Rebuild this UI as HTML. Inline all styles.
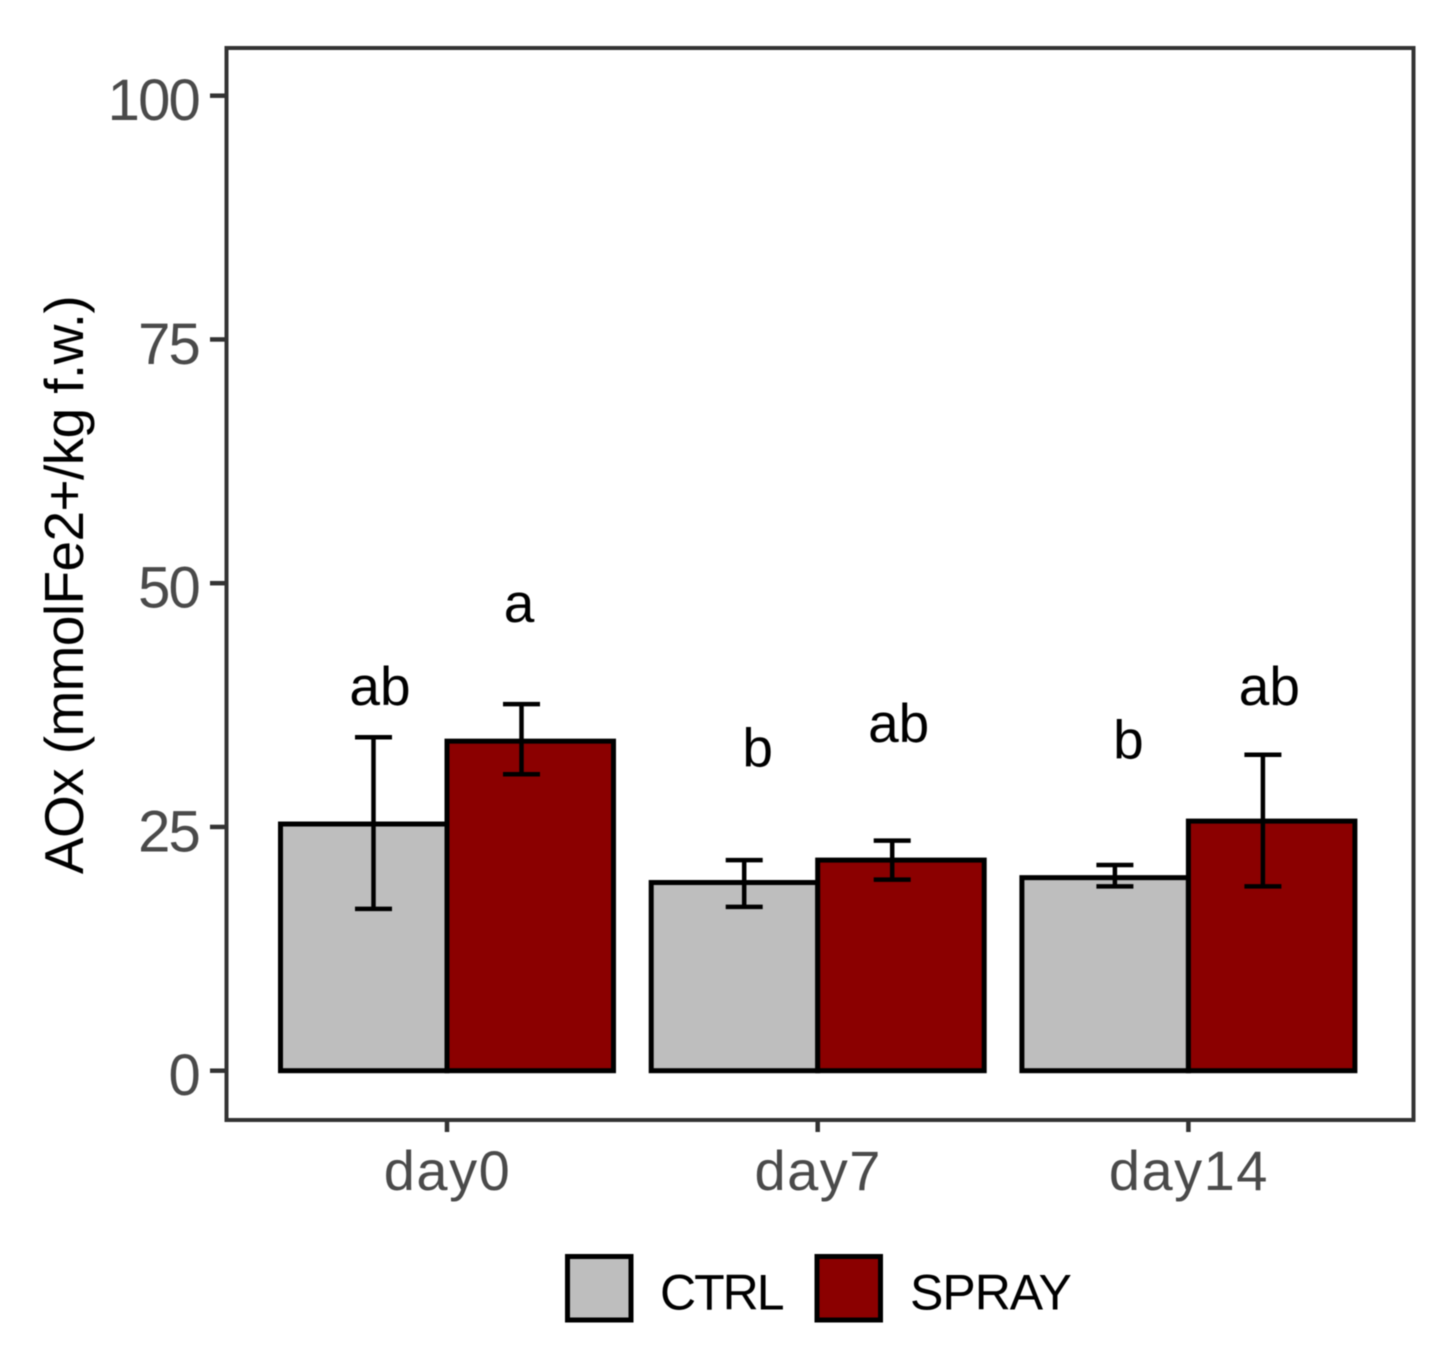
<!DOCTYPE html>
<html>
<head>
<meta charset="utf-8">
<title>AOx bar chart</title>
<style>
html,body{margin:0;padding:0;background:#fff;width:1439px;height:1356px;overflow:hidden}
svg{display:block;filter:blur(0.4px)}
text{font-family:"Liberation Sans",sans-serif}
</style>
</head>
<body>
<svg id="chart" xmlns="http://www.w3.org/2000/svg" width="1439" height="1356" viewBox="0 0 1439 1356">
<rect width="1439" height="1356" fill="#fff"/>
<g id="marks"></g>
<rect x="226.5" y="48" width="1187" height="1072" fill="none" stroke="#333" stroke-width="4"/>
<g id="axes"></g>
<text transform="translate(83,585) rotate(-90)" text-anchor="middle" font-size="55" letter-spacing="-0.6" fill="#000">AOx (mmolFe2+/kg f.w.)</text>
<g>
<rect x="567.5" y="1256.5" width="63.5" height="63.5" fill="#bebebe" stroke="#000" stroke-width="5"/>
<text x="660" y="1309.5" font-size="50" letter-spacing="-2" fill="#000">CTRL</text>
<rect x="817" y="1256.5" width="63.5" height="63.5" fill="#8b0000" stroke="#000" stroke-width="5"/>
<text x="910" y="1309.5" font-size="50" letter-spacing="-1" fill="#000">SPRAY</text>
</g>
</svg>
<script>
const categories = ['day0', 'day7', 'day14'];
const seriesNames = ['CTRL', 'SPRAY'];
const ctrlValues = [25.3, 19.3, 19.8];
const sprayValues = [33.8, 21.6, 25.6];
const ctrlErrHigh = [34.2, 21.6, 21.1];
const ctrlErrLow = [16.6, 16.8, 18.9];
const sprayErrHigh = [37.6, 23.6, 32.4];
const sprayErrLow = [30.4, 19.6, 18.9];
const yTicks = [0, 25, 50, 75, 100];
const letterCtrl = ['ab', 'b', 'b'];
const letterSpray = ['a', 'ab', 'ab'];
const letterCtrlHeight = [37.5, 31.2, 32];
const letterSprayHeight = [46, 33.7, 37.5];

const NS = 'http://www.w3.org/2000/svg';
const marks = document.getElementById('marks');
const axes = document.getElementById('axes');
function yScale(v) { return 1070.7 - v * 9.75; }
function xScale(i) { return 447 + i * 370.7; }
const barW = 166.5;
const fills = ['#bebebe', '#8b0000'];
function mk(parent, tag, attrs) {
  const el = document.createElementNS(NS, tag);
  for (const k in attrs) el.setAttribute(k, attrs[k]);
  parent.appendChild(el);
  return el;
}
function drawBar(i, s, v) {
  const cx = xScale(i);
  const x0 = s === 0 ? cx - barW : cx;
  const el = mk(marks, 'rect', { x: x0, y: yScale(v), width: barW, height: yScale(0) - yScale(v), fill: fills[s], stroke: '#000', 'stroke-width': 5 });
  
  
}
function drawErr(i, s, hi, lo) {
  const cx = xScale(i) + (s === 0 ? -73.5 : 74.5);
  const g = mk(marks, 'g', { stroke: '#000', 'stroke-width': 4.5, fill: 'none' });
  
  
  mk(g, 'line', { x1: cx, x2: cx, y1: yScale(hi), y2: yScale(lo) });
  mk(g, 'line', { x1: cx - 18.5, x2: cx + 18.5, y1: yScale(hi), y2: yScale(hi) });
  mk(g, 'line', { x1: cx - 18.5, x2: cx + 18.5, y1: yScale(lo), y2: yScale(lo) });
}
function drawLetter(i, s, txt, h) {
  const off = s === 0 ? -67 + Math.min(i, 1) * 7 : 72 + Math.min(i, 1) * 9;
  const t = mk(marks, 'text', { x: xScale(i) + off, y: yScale(h), 'text-anchor': 'middle', 'font-size': 55, fill: '#000' });
  
  
  t.textContent = txt;
}
categories.forEach(function (c, i) {
  drawBar(i, 0, ctrlValues[i]);
  drawBar(i, 1, sprayValues[i]);
  drawErr(i, 0, ctrlErrHigh[i], ctrlErrLow[i]);
  drawErr(i, 1, sprayErrHigh[i], sprayErrLow[i]);
  drawLetter(i, 0, letterCtrl[i], letterCtrlHeight[i]);
  drawLetter(i, 1, letterSpray[i], letterSprayHeight[i]);
  const tick = mk(axes, 'line', { x1: xScale(i), x2: xScale(i), y1: 1120, y2: 1132, stroke: '#333', 'stroke-width': 4.5 });
  
  
  const lab = mk(axes, 'text', { x: xScale(i) + 0.5, y: 1190, 'text-anchor': 'middle', 'font-size': 56, 'letter-spacing': 1.5, fill: '#4a4a4a' });
  
  
  lab.textContent = c;
});
yTicks.forEach(function (v) {
  const tick = mk(axes, 'line', { x1: 210, x2: 226, y1: yScale(v), y2: yScale(v), stroke: '#333', 'stroke-width': 4.5 });
  
  
  const lab = mk(axes, 'text', { x: 199, y: yScale(v) + 24.5, 'text-anchor': 'end', 'font-size': 58, 'letter-spacing': -1.8, fill: '#4a4a4a' });
  
  
  lab.textContent = v;
});
</script>
</body>
</html>
